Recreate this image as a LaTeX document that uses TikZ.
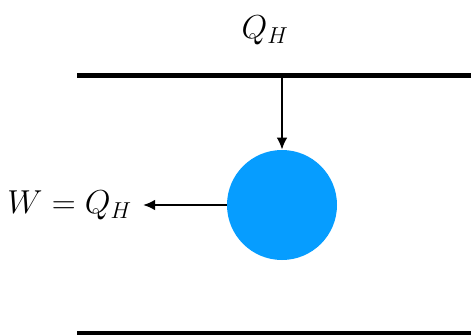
\documentclass[tikz,border=0pt]{standalone}
\usetikzlibrary{arrows.meta}
\definecolor{ballblue}{RGB}{6,157,255}
\begin{document}
\begin{tikzpicture}[x=0.75pt,y=-0.75pt,
  wall/.style={line width=3.8pt},
  flow/.style={line width=1.7pt,-{Latex[length=9pt,width=8pt]}},
  lbl/.style={font=\fontsize{24}{28}\selectfont,inner sep=0pt}]
\useasboundingbox (0,0) rectangle (471,335);
\coordinate (t1) at (77,75.5);
\coordinate (t2) at (471,75.5);
\coordinate (b1) at (77,333.5);
\coordinate (b2) at (471,333.5);
\draw[wall] (t1) -- (t2);
\draw[wall] (b1) -- (b2);
\node[circle,fill=ballblue,minimum size=110*0.75pt,inner sep=0pt] (ball) at (282,205) {};
\coordinate (top) at (282,77);
\node[lbl] (qh) at (265,30) {$Q_H$};
\node[lbl,anchor=east] (w) at (132,205) {$W=Q_H$};
\coordinate (wend) at (143,205);
\draw[flow] (top) -- (ball.north);
\draw[flow] (ball.west) -- (wend);
\end{tikzpicture}
\end{document}
